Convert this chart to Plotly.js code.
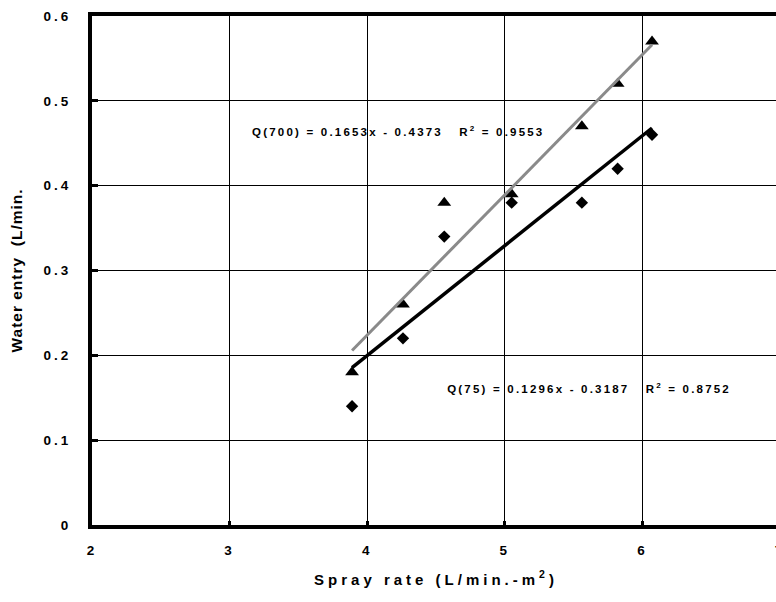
<!DOCTYPE html>
<html>
<head>
<meta charset="utf-8">
<script src="https://cdn.plot.ly/plotly-3.0.1.min.js"></script>
<style>
  html, body { margin: 0; padding: 0; background: #fff; overflow: hidden; }
  #chart { width: 800px; height: 602px; }
  #chart .xtick text, #chart .ytick text { letter-spacing: 3px; }
  #chart text.xtitle { letter-spacing: 4px; }
  #chart text.ytitle { letter-spacing: 1px; }
  #chart .annotation-text { letter-spacing: 2.2px; }
</style>
</head>
<body>
<div id="chart"></div>
<script>
// Spray rate (L/min.-m2)
const sprayRate = [3.89, 4.26, 4.56, 5.05, 5.56, 5.82, 6.07];
// Water entry (L/min.)
const q700 = [0.18, 0.26, 0.38, 0.39, 0.47, 0.52, 0.57];
const q75  = [0.14, 0.22, 0.34, 0.38, 0.38, 0.42, 0.46];
// Trend-line coefficients shown on the chart [slope, intercept]
const fit700 = [0.1653, -0.4373];
const fit75  = [0.1296, -0.3187];
const xTickVals = [2, 3, 4, 5, 6, 7];
const xTickText = ["2", "3", "4", "5", "6", "7"];
const yTickVals = [0, 0.1, 0.2, 0.3, 0.4, 0.5, 0.6];
const yTickText = ["0", "0.1", "0.2", "0.3", "0.4", "0.5", "0.6"];
const label700 = "Q(700) = 0.1653x - 0.4373   R<sup>2</sup> = 0.9553";
const label75  = "Q(75) = 0.1296x - 0.3187   R<sup>2</sup> = 0.8752";

const xMin = Math.min(...sprayRate), xMax = Math.max(...sprayRate);
const lineX = [xMin, xMax];
const line700 = lineX.map(x => fit700[0] * x + fit700[1]);
const line75  = lineX.map(x => fit75[0] * x + fit75[1]);

const font = "Liberation Sans, Arial, sans-serif";

const traces = [
  { x: sprayRate, y: q700, mode: "markers", type: "scatter",
    marker: { symbol: "triangle-up", size: 12, color: "#000" }, name: "Q(700)" },
  { x: sprayRate, y: q75, mode: "markers", type: "scatter",
    marker: { symbol: "diamond", size: 9.5, color: "#000" }, name: "Q(75)" },
  { x: lineX, y: line700, mode: "lines", type: "scatter",
    line: { color: "#8a8a8a", width: 3 }, name: "fit 700" },
  { x: lineX, y: line75, mode: "lines", type: "scatter",
    line: { color: "#000", width: 3.5 }, name: "fit 75" }
];

const layout = {
  width: 800, height: 602,
  margin: { l: 92, r: 20, t: 16, b: 77 },
  paper_bgcolor: "#fff", plot_bgcolor: "#fff",
  showlegend: false,
  font: { family: font, size: 13, color: "#000", weight: "bold" },
  xaxis: {
    range: [2, 7], tickvals: xTickVals, ticktext: xTickText,
    showgrid: true, gridcolor: "#000", gridwidth: 1, zeroline: false,
    showline: true, linecolor: "#000", linewidth: 4, mirror: true,
    ticks: "inside", ticklen: 4, tickwidth: 3, tickcolor: "#000",
    ticklabelstandoff: 10,
    tickfont: { family: font, size: 13.5, color: "#000", weight: "bold" },
    title: { text: "Spray rate (L/min.-m<sup>2</sup>)", standoff: 18,
             font: { family: font, size: 15, color: "#000", weight: "bold" } }
  },
  yaxis: {
    range: [0, 0.6], tickvals: yTickVals, ticktext: yTickText,
    showgrid: true, gridcolor: "#000", gridwidth: 1, zeroline: false,
    showline: true, linecolor: "#000", linewidth: 4, mirror: true,
    ticks: "inside", ticklen: 6, tickwidth: 3, tickcolor: "#000",
    ticklabelstandoff: 14,
    tickfont: { family: font, size: 13.5, color: "#000", weight: "bold" },
    title: { text: "Water entry  (L/min.", standoff: 27,
             font: { family: font, size: 15.5, color: "#000", weight: "bold" } }
  },
  annotations: [
    { x: 4.23, y: 0.4645, xref: "x", yref: "y", text: label700, showarrow: false,
      font: { family: font, size: 11.5, color: "#000", weight: "bold" } },
    { x: 5.61, y: 0.161, xref: "x", yref: "y", text: label75, showarrow: false,
      font: { family: font, size: 11.5, color: "#000", weight: "bold" } }
  ]
};

Plotly.newPlot("chart", traces, layout, { displayModeBar: false, staticPlot: true });
</script>
</body>
</html>
